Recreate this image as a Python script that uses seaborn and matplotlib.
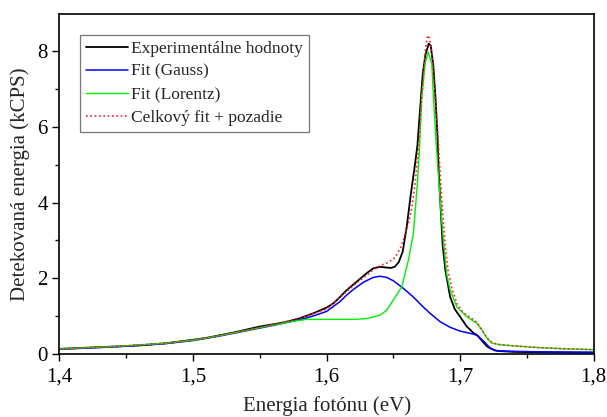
import matplotlib
matplotlib.use("Agg")
import matplotlib.pyplot as plt
from matplotlib.ticker import MultipleLocator, FuncFormatter
import numpy as np
import pandas as pd
import seaborn as sns

# Experimental spectrum (photon energy in eV, detected counts in kCPS)
exp_e = [1.400, 1.420, 1.440, 1.460, 1.480, 1.500, 1.510, 1.520, 1.530, 1.540,
         1.550, 1.560, 1.570, 1.580, 1.590, 1.600, 1.605, 1.610, 1.615, 1.620,
         1.625, 1.630, 1.635, 1.640, 1.645, 1.648, 1.651, 1.654, 1.657, 1.660,
         1.663, 1.666, 1.668, 1.670, 1.672, 1.674, 1.6765, 1.678, 1.680, 1.6815,
         1.683, 1.684, 1.6855, 1.687, 1.689, 1.6925, 1.696, 1.700, 1.705, 1.710,
         1.7125, 1.716, 1.720, 1.7225, 1.726, 1.730, 1.740, 1.760, 1.780, 1.800]
exp_i = [0.13, 0.16, 0.19, 0.22, 0.28, 0.37, 0.42, 0.49, 0.56, 0.64,
         0.72, 0.78, 0.84, 0.94, 1.07, 1.22, 1.33, 1.50, 1.68, 1.83,
         1.98, 2.13, 2.26, 2.30, 2.28, 2.27, 2.30, 2.42, 2.70, 3.35,
         4.20, 4.95, 5.50, 6.45, 7.40, 7.90, 8.20, 8.15, 7.60, 6.80,
         5.80, 4.80, 3.80, 2.85, 2.20, 1.51, 1.18, 0.98, 0.72, 0.55,
         0.50, 0.36, 0.20, 0.145, 0.09, 0.07, 0.05, 0.04, 0.035, 0.03]

# Gaussian component including background
gauss_e = [1.400, 1.440, 1.480, 1.500, 1.520, 1.540, 1.560, 1.580, 1.590, 1.600,
           1.610, 1.615, 1.620, 1.628, 1.635, 1.640, 1.645, 1.650, 1.6575, 1.665,
           1.672, 1.6775, 1.685, 1.6925, 1.700, 1.705, 1.710, 1.713, 1.718, 1.7225,
           1.727, 1.735, 1.760, 1.800]
gauss_i = [0.12, 0.18, 0.27, 0.35, 0.47, 0.61, 0.75, 0.90, 1.00, 1.12,
           1.38, 1.55, 1.70, 1.90, 2.02, 2.05, 2.02, 1.93, 1.73, 1.50,
           1.25, 1.07, 0.85, 0.70, 0.60, 0.56, 0.52, 0.48, 0.32, 0.15,
           0.08, 0.07, 0.05, 0.04]

# Lorentzian component including background
lor_e = [1.400, 1.440, 1.480, 1.500, 1.520, 1.540, 1.560, 1.575, 1.585, 1.600,
         1.620, 1.630, 1.640, 1.645, 1.650, 1.6563, 1.6613, 1.665, 1.668, 1.6695,
         1.6713, 1.6738, 1.676, 1.6788, 1.680, 1.682, 1.684, 1.686, 1.688, 1.690,
         1.6925, 1.6975, 1.705, 1.7125, 1.716, 1.720, 1.7238, 1.730, 1.740, 1.760,
         1.780, 1.800]
lor_i = [0.13, 0.19, 0.28, 0.36, 0.48, 0.62, 0.76, 0.86, 0.91, 0.91,
         0.91, 0.93, 1.02, 1.15, 1.42, 1.77, 2.48, 3.18, 4.50, 5.38,
         6.79, 7.67, 7.98, 7.67, 6.79, 5.60, 4.60, 3.60, 2.80, 2.10,
         1.69, 1.24, 0.98, 0.81, 0.65, 0.42, 0.28, 0.24, 0.21, 0.16,
         0.13, 0.11]

# Total fit plus background
tot_e = [1.400, 1.440, 1.480, 1.500, 1.520, 1.540, 1.560, 1.580, 1.600, 1.620,
         1.630, 1.635, 1.640, 1.645, 1.650, 1.6526, 1.656, 1.6613, 1.6638, 1.6663,
         1.6688, 1.671, 1.673, 1.6745, 1.6758, 1.677, 1.679, 1.681, 1.683, 1.685,
         1.687, 1.689, 1.691, 1.694, 1.698, 1.702, 1.706, 1.710, 1.7125, 1.716,
         1.720, 1.724, 1.730, 1.740, 1.760, 1.780, 1.800]
tot_i = [0.13, 0.19, 0.28, 0.36, 0.48, 0.62, 0.77, 0.95, 1.18, 1.80,
         2.08, 2.22, 2.33, 2.40, 2.50, 2.62, 2.85, 3.45, 3.85, 4.50,
         5.38, 6.60, 7.60, 8.20, 8.42, 8.35, 7.90, 7.00, 6.00, 4.80,
         3.70, 2.80, 2.20, 1.70, 1.30, 1.10, 1.00, 0.90, 0.83, 0.65,
         0.42, 0.29, 0.24, 0.21, 0.16, 0.13, 0.11]

labels = ["Experimentálne hodnoty", "Fit (Gauss)", "Fit (Lorentz)",
          "Celkový fit + pozadie"]

sns.set_style("ticks")
plt.rcParams["font.family"] = ["Liberation Serif", "DejaVu Serif"]

fig = plt.figure(figsize=(6.07, 4.17), dpi=100)
ax = fig.add_axes([0.098, 0.1516, 0.880, 0.8144])

series = [
    (exp_e, exp_i, labels[0], "#000000", "-", 1.3),
    (gauss_e, gauss_i, labels[1], "#0000ff", "-", 1.1),
    (lor_e, lor_i, labels[2], "#00f000", "-", 1.0),
    (tot_e, tot_i, labels[3], "#ff2020", (0, (1, 1.6)), 1.2),
]
for e, i, lab, col, ls, lw in series:
    df = pd.DataFrame({"E": e, "I": i})
    sns.lineplot(data=df, x="E", y="I", ax=ax, color=col, linestyle=ls,
                 linewidth=lw, label=lab, estimator=None, sort=True)

ax.set_xlim(1.4, 1.8)
ax.set_ylim(0, 8.98)
ax.xaxis.set_major_locator(MultipleLocator(0.1))
ax.xaxis.set_minor_locator(MultipleLocator(0.05))
ax.yaxis.set_major_locator(MultipleLocator(2))
ax.yaxis.set_minor_locator(MultipleLocator(1))
ax.xaxis.set_major_formatter(FuncFormatter(lambda v, p: f"{v:.1f}".replace(".", ",")))
ax.yaxis.set_major_formatter(FuncFormatter(lambda v, p: f"{v:.0f}"))

ax.tick_params(axis="both", which="major", direction="out", length=5, width=1,
               labelsize=15, color="black", labelcolor="black")
ax.tick_params(axis="x", which="major", pad=5)
ax.tick_params(axis="both", which="minor", direction="out", length=3, width=1,
               color="black")
for s in ax.spines.values():
    s.set_linewidth(1.2)
    s.set_color("black")

ax.set_xlabel("Energia fotónu (eV)", fontsize=15, labelpad=7)
ax.set_ylabel("Detekovaná energia (kCPS)", fontsize=15, labelpad=5)

leg = ax.legend(loc="upper left", bbox_to_anchor=(0.038, 0.94), fontsize=12.5,
                frameon=True, fancybox=False, edgecolor="#555555",
                handlelength=2.4, handletextpad=0.2, borderpad=0.35,
                labelspacing=0.4, borderaxespad=0.0)
leg.get_frame().set_linewidth(0.9)

fig.savefig("out.png", dpi=100)
